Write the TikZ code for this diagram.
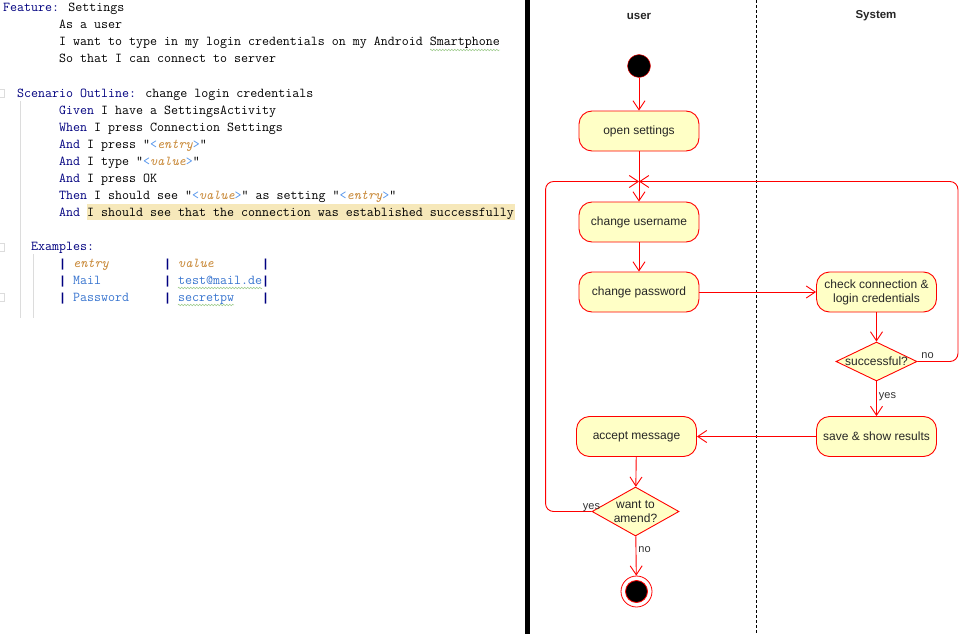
\documentclass[tikz,border=0pt]{standalone}
\usepackage{fontspec}
\setmainfont{Liberation Sans}
\newfontfamily\pipefont{Liberation Mono}
\usepackage{xcolor}
\usetikzlibrary{arrows.meta,shapes.geometric,decorations.pathmorphing}
\definecolor{kwblue}{HTML}{000080}
\definecolor{parorange}{HTML}{C98A3A}
\definecolor{brblue}{HTML}{5394EC}
\definecolor{tblblue}{HTML}{3A76D0}
\definecolor{hilite}{HTML}{F6E8BA}
\definecolor{gutter}{HTML}{DCDCDC}
\definecolor{actfill}{HTML}{FFFFC6}
\definecolor{spellgreen}{HTML}{9CCB8A}
\newcommand{\kw}[1]{\textcolor{kwblue}{#1}}
\newcommand{\param}[1]{\textcolor{brblue}{<}\textcolor{parorange}{\itshape #1}\textcolor{brblue}{>}}
\newcommand{\pipe}{\textcolor{kwblue}{\pipefont\bfseries|}}

\begin{document}
\begin{tikzpicture}[x=1pt,y=-1pt,
  code/.style={anchor=base west,inner sep=0pt,font=\fontsize{13.58}{15}\ttfamily},
  cell/.style={code,text=tblblue},
  hcell/.style={code,text=parorange,font=\fontsize{13.58}{15}\ttfamily\itshape},
  pipecell/.style={anchor=base west,inner sep=0pt,font=\fontsize{11.67}{15}\selectfont},
  lane/.style={font=\fontsize{11.5}{14}\selectfont\bfseries,text=black!85},
  act/.style={draw=red,line width=0.9pt,fill=actfill,rounded corners=13pt,minimum width=120pt,
    minimum height=40pt,inner sep=2pt,align=center,text=black!85,
    font=\fontsize{12}{14}\selectfont},
  dec/.style={diamond,draw=red,line width=0.9pt,fill=actfill,inner sep=0pt},
  dectext/.style={align=center,text=black!85,font=\fontsize{12}{14}\selectfont,inner sep=0pt},
  lbl/.style={text=black!80,font=\fontsize{11}{13}\selectfont,inner sep=2pt},
  flow/.style={draw=red,line width=0.9pt,-{Straight Barb[length=9pt,width=12pt]}},
  plain/.style={draw=red,line width=0.9pt}]
\useasboundingbox (0,0) rectangle (975,634);
\fill[white] (0,0) rectangle (975,634);

% feature file
\fill[hilite] (87,204) rectangle (515,220);
\draw[gutter] (-3,89) rectangle (4,97);
\draw[gutter] (-3,243) rectangle (4,251);
\draw[gutter] (-3,293) rectangle (4,301);
\draw[gutter] (20,101) -- (20,318);
\draw[gutter] (33,254) -- (33,318);
\node[code] (feature) at (3,12) {\kw{Feature:} Settings};
\node[code] (asa) at (59,29) {As a user};
\node[code] (iwant) at (59,46) {I want to type in my login credentials on my Android Smartphone};
\node[code] (sothat) at (59,63) {So that I can connect to server};
\node[code] (outline) at (17,97) {\kw{Scenario Outline:} change login credentials};
\node[code] (given) at (59,114) {\kw{Given} I have a SettingsActivity};
\node[code] (when) at (59,131) {\kw{When} I press Connection Settings};
\node[code] (press) at (59,148) {\kw{And} I press "\param{entry}"};
\node[code] (type) at (59,165) {\kw{And} I type "\param{value}"};
\node[code] (pressok) at (59,182) {\kw{And} I press OK};
\node[code] (then) at (59,199) {\kw{Then} I should see "\param{value}" as setting "\param{entry}"};
\node[code] (andsee) at (59,216) {\kw{And} I should see that the connection was established successfully};
\node[code] (examples) at (31,250) {\kw{Examples:}};
\foreach \r in {267,284,301}{
  \node[pipecell] at (59,\r) {\pipe};
  \node[pipecell] at (164,\r) {\pipe};
  \node[pipecell] at (262,\r) {\pipe};
}
\node[hcell] (hentry) at (73,267) {entry};
\node[hcell] (hvalue) at (178,267) {value};
\node[cell] (mail) at (73,284) {Mail};
\node[cell] (mailval) at (178,284) {test@mail.de};
\node[cell] (pass) at (73,301) {Password};
\node[cell] (passval) at (178,301) {secretpw};
\draw[spellgreen,decorate,decoration={zigzag,amplitude=0.8pt,segment length=3pt}] (430,50) -- (500,50);
\draw[spellgreen,decorate,decoration={zigzag,amplitude=0.8pt,segment length=3pt}] (178,288) -- (262,288);
\draw[spellgreen,decorate,decoration={zigzag,amplitude=0.8pt,segment length=3pt}] (178,305) -- (234,305);

% swimlanes
\fill[black] (525,0) rectangle (529.5,634);
\draw[black,dashed,dash pattern=on 3pt off 2pt] (756.5,0) -- (756.5,634);
\node[lane] (user) at (639,16) {user};
\node[lane] (system) at (876,16) {System};

% activity diagram
\node[circle,fill=black,draw=red,minimum size=23pt,inner sep=0pt] (start) at (639,66) {};
\node[act] (open) at (639,131) {open settings};
\coordinate (merge) at (639,181.5);
\node[act] (uname) at (639,222) {change username};
\node[act] (pwd) at (639,292) {change password};
\node[act] (check) at (876.5,292) {check connection \&\\login credentials};
\node[dec,minimum width=81pt,minimum height=39pt] (succ) at (876.5,361.5) {};
\node[dectext] at (succ.center) {successful?};
\node[act] (save) at (876.5,436.5) {save \& show results};
\node[act] (accept) at (636.5,436.5) {accept message};
\node[dec,minimum width=87pt,minimum height=49pt] (amend) at (635.5,511.5) {};
\node[dectext] at (amend.center) {want to\\amend?};
\node[circle,draw=red,fill=white,line width=0.8pt,minimum size=31pt,inner sep=0pt,
  path picture={\filldraw[fill=black,draw=red,line width=0.8pt] (path picture bounding box.center) circle (11pt);}] (stop) at (636.5,591.5) {};

\draw[flow] (start) -- (open);
\draw[plain] (open) -- (merge);
\draw[flow] (merge) -- (uname);
\draw[flow] (uname) -- (pwd);
\draw[flow] (pwd) -- (check);
\draw[flow] (check) -- (succ);
\draw[flow] (succ) -- node[lbl,right,pos=0.45] {yes} (save);
\draw[flow,rounded corners=8pt] (succ.east) -- node[lbl,above,pos=0.25] {no} ++(40.5,0) |- (merge);
\draw[flow] (save) -- (accept);
\draw[flow] (accept) -- (amend);
\draw[flow,rounded corners=8pt] (amend.west) node[lbl,anchor=south,yshift=-3pt] {yes} -- ++(-46,0) |- (merge);
\draw[flow] (amend) -- node[lbl,right,pos=0.35] {no} (stop);
\end{tikzpicture}
\end{document}
